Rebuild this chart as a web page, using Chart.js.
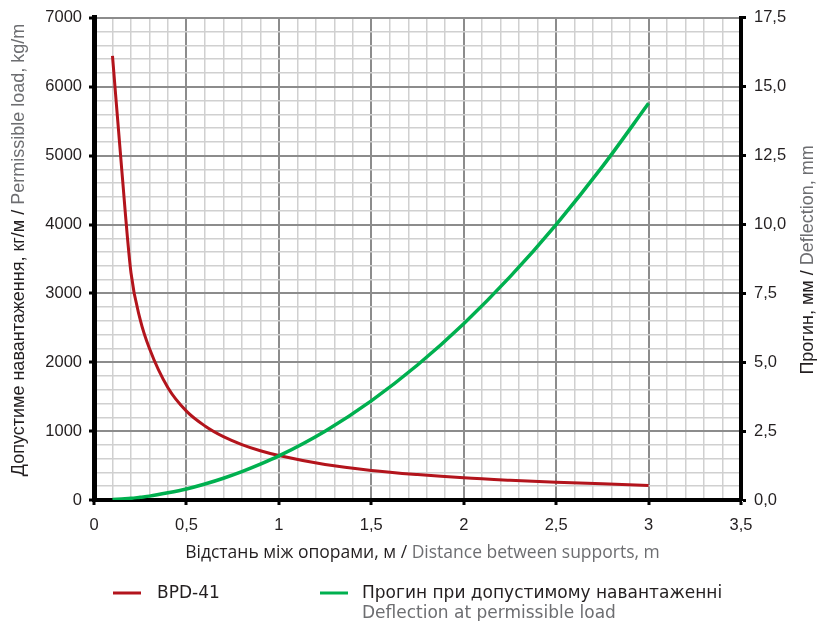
<!DOCTYPE html>
<html>
<head>
<meta charset="utf-8">
<script src="https://cdn.jsdelivr.net/npm/chart.js@4.4.1/dist/chart.umd.min.js"></script>
<style>
  html, body { margin: 0; padding: 0; background: #ffffff; }
  #wrap { width: 817px; height: 621px; }
</style>
</head>
<body>
<div id="wrap"><canvas id="chart" width="817" height="621"></canvas></div>
<script>
// Chart data
const distances = [0.1, 0.15, 0.2, 0.25, 0.3, 0.4, 0.5, 0.6, 0.7, 0.8, 0.9, 1.0, 1.25, 1.5, 1.75, 2.0, 2.25, 2.5, 2.75, 3.0];
const loadBPD41 = [6450, 4800, 3300, 2620, 2200, 1630, 1290, 1075, 920, 805, 715, 645, 515, 430, 370, 322, 287, 258, 235, 212];
const deflection = [0.02, 0.04, 0.06, 0.10, 0.14, 0.26, 0.40, 0.58, 0.79, 1.03, 1.30, 1.60, 2.50, 3.60, 4.90, 6.40, 8.10, 10.0, 12.1, 14.4];

const seriesNames = ['BPD-41', 'Прогин при допустимому навантаженні'];
const seriesNamesEn = ['', 'Deflection at permissible load'];
const xTitle = ['Відстань між опорами, м / ', 'Distance between supports, m'];
const yLeftTitle = ['Допустиме навантаження, кг/м / ', 'Permissible load, kg/m'];
const yRightTitle = ['Прогин, мм / ', 'Deflection, mm'];

const RED = '#b3141c';
const GREEN = '#00b04f';
const DARK = '#231f20';
const GREY = '#6d6e71';

function isMajor(v, step) {
    const r = v / step;
    return Math.abs(r - Math.round(r)) < 1e-6;
}

function gridColor(step) {
    return ctx => isMajor(ctx.tick.value, step) ? '#8c8c8c' : '#d0d0d0';
}
function gridWidth(step) {
    return ctx => isMajor(ctx.tick.value, step) ? 2 : 1.5;
}
function tickColor(step) {
    return ctx => isMajor(ctx.tick.value, step) ? '#000000' : 'rgba(0,0,0,0)';
}

// draw "dark part / grey part" text centred on x,y
function twoTone(ctx, parts, x, y, font) {
    ctx.font = font;
    const w1 = ctx.measureText(parts[0]).width;
    const w2 = ctx.measureText(parts[1]).width;
    let start = x - (w1 + w2) / 2;
    ctx.textAlign = 'left';
    ctx.textBaseline = 'middle';
    ctx.fillStyle = DARK;
    ctx.fillText(parts[0], start, y);
    ctx.fillStyle = GREY;
    ctx.fillText(parts[1], start + w1, y);
}

const titlesPlugin = {
    id: 'titles',
    afterDraw(chart) {
        const ctx = chart.ctx;
        const area = chart.chartArea;
        ctx.save();
        twoTone(ctx, xTitle, (area.left + area.right) / 2 + 5, 553, '17.5px "Open Sans"');

        ctx.save();
        ctx.translate(19, (area.top + area.bottom) / 2 - 9);
        ctx.rotate(-Math.PI / 2);
        twoTone(ctx, yLeftTitle, 0, 0, '18px "Liberation Sans"');
        ctx.restore();

        ctx.save();
        ctx.translate(808, (area.top + area.bottom) / 2 + 1);
        ctx.rotate(-Math.PI / 2);
        twoTone(ctx, yRightTitle, 0, 0, '18px "Liberation Sans"');
        ctx.restore();

        // legend
        ctx.lineWidth = 3;
        ctx.strokeStyle = RED;
        ctx.beginPath(); ctx.moveTo(113, 593); ctx.lineTo(141, 593); ctx.stroke();
        ctx.strokeStyle = GREEN;
        ctx.beginPath(); ctx.moveTo(320, 593); ctx.lineTo(348, 593); ctx.stroke();

        ctx.font = '17px "DejaVu Sans"';
        ctx.textAlign = 'left';
        ctx.textBaseline = 'middle';
        ctx.fillStyle = DARK;
        ctx.fillText(seriesNames[0], 157, 594);
        ctx.fillText(seriesNames[1], 362, 594);
        ctx.fillStyle = GREY;
        ctx.fillText(seriesNamesEn[1], 362, 614);
        ctx.restore();
    }
};

const tickFont = { family: '"Liberation Sans", Arial, sans-serif', size: 16.5 };

new Chart(document.getElementById('chart'), {
    type: 'line',
    data: {
        datasets: [
            {
                label: seriesNames[0],
                data: distances.map((x, i) => ({ x: x, y: loadBPD41[i] })),
                borderColor: RED,
                borderWidth: 3,
                pointRadius: 0,
                cubicInterpolationMode: 'monotone',
                yAxisID: 'y',
                order: 1
            },
            {
                label: seriesNames[1],
                data: distances.map((x, i) => ({ x: x, y: deflection[i] })),
                borderColor: GREEN,
                borderWidth: 3.5,
                pointRadius: 0,
                cubicInterpolationMode: 'monotone',
                yAxisID: 'y2',
                order: 0
            }
        ]
    },
    options: {
        responsive: false,
        animation: false,
        layout: { padding: { top: 17, left: 0, right: 0, bottom: 0 } },
        plugins: { legend: { display: false }, tooltip: { enabled: false } },
        scales: {
            x: {
                type: 'linear',
                min: 0,
                max: 3.5,
                afterFit: s => { s.height = 121; },
                border: { display: true, color: '#000', width: 4 },
                grid: { color: gridColor(0.5), lineWidth: gridWidth(0.5), tickColor: tickColor(0.5), tickLength: 5, tickWidth: 3 },
                ticks: {
                    stepSize: 0.1,
                    autoSkip: false,
                    maxRotation: 0,
                    padding: 11,
                    color: DARK,
                    font: tickFont,
                    callback: v => isMajor(v, 0.5) ? String(Math.round(v * 2) / 2).replace('.', ',') : ''
                }
            },
            y: {
                position: 'left',
                min: 0,
                max: 7000,
                afterFit: s => { s.width = 94; },
                border: { display: true, color: '#000', width: 5 },
                grid: { color: gridColor(1000), lineWidth: gridWidth(1000), tickColor: tickColor(1000), tickLength: 5, tickWidth: 3 },
                ticks: {
                    stepSize: 200,
                    autoSkip: false,
                    padding: 7,
                    color: DARK,
                    font: tickFont,
                    callback: v => isMajor(v, 1000) ? String(v) : ''
                }
            },
            y2: {
                position: 'right',
                min: 0,
                max: 17.5,
                afterFit: s => { s.width = 76; },
                border: { display: true, color: '#000', width: 4 },
                grid: { drawOnChartArea: false, tickColor: tickColor(2.5), tickLength: 5, tickWidth: 3 },
                ticks: {
                    stepSize: 0.5,
                    autoSkip: false,
                    padding: 8,
                    color: DARK,
                    font: tickFont,
                    callback: v => isMajor(v, 2.5) ? (Math.round(v * 2) / 2).toFixed(1).replace('.', ',') : ''
                }
            }
        }
    },
    plugins: [titlesPlugin]
});
</script>
</body>
</html>
